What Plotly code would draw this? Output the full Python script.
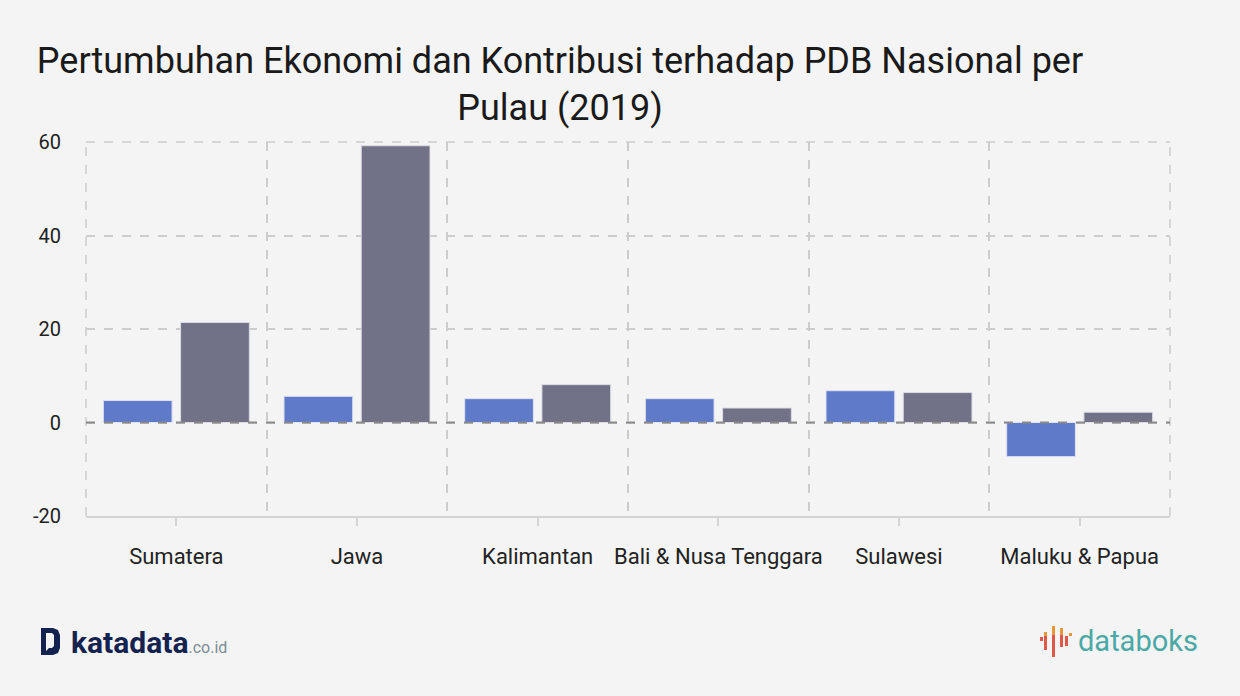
import plotly.graph_objects as go

categories = ["Sumatera", "Jawa", "Kalimantan", "Bali & Nusa Tenggara", "Sulawesi", "Maluku & Papua"]
pertumbuhan = [4.7, 5.6, 5.1, 5.1, 6.8, -7.3]
kontribusi = [21.4, 59.2, 8.1, 3.1, 6.4, 2.2]
y_ticks = [-20, 0, 20, 40, 60]
y_tick_labels = ["-20", "0", "20", "40", "60"]

BG = "#f4f4f4"
FONT = "Roboto"
W, H = 1240, 696
L, R, T, B = 86, 70, 142, 180
PW, PH = W - L - R, H - T - B


def px(x):
    return (x - L) / PW


def py(y):
    return (H - B - y) / PH


def path(points):
    return "M " + " L ".join(f"{px(x):.5f},{py(y):.5f}" for x, y in points) + " Z"


fig = go.Figure()
fig.add_trace(go.Bar(x=categories, y=pertumbuhan, name="Pertumbuhan Ekonomi",
                     marker=dict(color="#5f7ac8", line=dict(color="#dfe2f2", width=1)),
                     hoverinfo="x+y"))
fig.add_trace(go.Bar(x=categories, y=kontribusi, name="Kontribusi terhadap PDB",
                     marker=dict(color="#717187", line=dict(color="#dcdce6", width=1)),
                     hoverinfo="x+y"))
# invisible helper trace for centre ticks/labels
fig.add_trace(go.Scatter(x=categories, y=[0] * len(categories), xaxis="x2", mode="markers",
                         marker=dict(opacity=0), hoverinfo="skip", showlegend=False))

GRID = "#cccccc"
fig.update_layout(
    width=W, height=H,
    paper_bgcolor=BG, plot_bgcolor=BG,
    margin=dict(l=L, r=R, t=T, b=B),
    barmode="group", bargap=0.145, bargroupgap=0.11,
    showlegend=False,
    font=dict(family=FONT, color="#222222", size=20),
    title=dict(text="Pertumbuhan Ekonomi dan Kontribusi terhadap PDB Nasional per<br>Pulau (2019)",
               x=560 / W, xanchor="center", xref="container", yref="container",
               y=1 - 73 / H, yanchor="top",
               font=dict(family=FONT, size=36, color="#1a1a1a")),
    xaxis=dict(type="category", categoryorder="array", categoryarray=categories,
               tickson="boundaries", showgrid=True, gridcolor=GRID, griddash="dash",
               gridwidth=1.5, ticks="", showticklabels=False,
               showline=True, linecolor="#d4d4d4", linewidth=2, zeroline=False),
    xaxis2=dict(type="category", categoryorder="array", categoryarray=categories,
                overlaying="x", matches="x", side="bottom", anchor="y",
                showgrid=False, ticks="outside", ticklen=9, tickcolor="#d4d4d4", tickwidth=2,
                showticklabels=True, ticklabelstandoff=12,
                tickfont=dict(family=FONT, size=22, color="#222222"), showline=False),
    yaxis=dict(range=[-20, 60], tickvals=y_ticks, ticktext=y_tick_labels,
               showgrid=True, gridcolor=GRID,
               griddash="dash", gridwidth=1.5, zeroline=False, showline=False,
               ticks="", ticklabelstandoff=24,
               tickfont=dict(family=FONT, size=20, color="#222222")),
)

# frame borders (dashed) left, right, top
for x0, x1, y0, y1 in [(0, 0, 0, 1), (1, 1, 0, 1), (0, 1, 1, 1)]:
    fig.add_shape(type="line", xref="paper", yref="paper", x0=x0, x1=x1, y0=y0, y1=y1,
                  line=dict(color=GRID, width=1.5, dash="dash"), layer="below")

# dashed zero line above bars
fig.add_shape(type="line", xref="paper", x0=0, x1=1, yref="y", y0=0, y1=0,
              line=dict(color="#8a8a8a", width=2, dash="dash"), layer="above")

# --- katadata logo ---
NAVY = "#13224f"
fig.add_shape(type="path", xref="paper", yref="paper",
              path=path([(41, 628), (53, 628), (58, 630), (60, 635), (60, 648), (58, 653),
                         (53, 655), (41, 655)]),
              fillcolor=NAVY, line=dict(width=0))
fig.add_shape(type="path", xref="paper", yref="paper",
              path=path([(46, 633), (52, 633), (54, 635), (54, 646), (52, 648), (49, 648),
                         (46, 651)]),
              fillcolor=BG, line=dict(width=0))
fig.add_annotation(x=px(69), y=py(642), xref="paper", yref="paper",
                   xanchor="left", yanchor="middle", showarrow=False,
                   text="<b>katadata</b><span style='font-size:16px;color:#7b8d96'>.co.id</span>",
                   font=dict(family=FONT, size=30, color=NAVY))

# --- databoks logo ---
RED, ORANGE = "#e0584b", "#e8963a"
segs = [(1040, 637, 641, RED),
        (1044, 632, 636, ORANGE), (1044, 636, 650, RED),
        (1052, 626, 635, ORANGE), (1052, 635, 657, RED),
        (1060, 628, 635, ORANGE), (1060, 635, 647, RED),
        (1065, 636, 646, RED),
        (1069, 633, 636, ORANGE)]
for x, yt, yb, c in segs:
    fig.add_shape(type="rect", xref="paper", yref="paper",
                  x0=px(x), x1=px(x + 3), y0=py(yb), y1=py(yt),
                  fillcolor=c, line=dict(width=0))
fig.add_annotation(x=px(1076), y=py(641), xref="paper", yref="paper",
                   xanchor="left", yanchor="middle", showarrow=False,
                   text="databoks", font=dict(family=FONT, size=29, color="#4aa9a6"))

fig.write_html("out.html", config={"displayModeBar": False},
               post_script="document.body.style.margin='0';")
